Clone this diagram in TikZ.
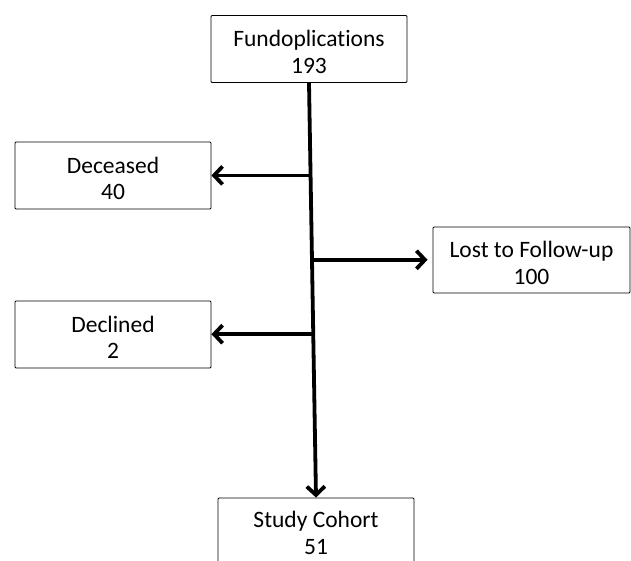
\documentclass[tikz,border=0pt]{standalone}
\usepackage{fontspec}
\setmainfont{Carlito}[Ligatures={NoCommon}]
\usetikzlibrary{arrows.meta,calc}
\begin{document}
\begin{tikzpicture}[x=1pt,y=-1pt,
  box/.style={draw=black,line width=0.9pt,rounded corners=1pt,fill=white,
    minimum width=196pt,minimum height=67pt,inner sep=0pt},
  txt/.style={align=center,inner sep=0pt,yshift=-3pt,
    font=\fontsize{23.5}{26.5}\selectfont},
  arr/.style={line width=3.8pt,-{Straight Barb[length=8.5pt,width=18pt,line width=3.8pt]}}]
\useasboundingbox (0,0) rectangle (631,560);
\node[box,label={[txt]center:Fundoplications\\193}] (fund) at (309,49) {};
\node[box,label={[txt]center:Deceased\\40}] (dec) at (113,175.5) {};
\node[box,minimum width=197pt,minimum height=66pt,label={[txt]center:Lost to Follow-up\\100}] (lost) at (531.5,260) {};
\node[box,label={[txt]center:Declined\\2}] (decl) at (113,334.5) {};
\node[box,minimum height=68pt,label={[txt,yshift=2pt]center:Study Cohort\\51}] (study) at (316,532) {};
\draw[arr] (fund.south) -- (study.north);
\coordinate (c1) at ($(fund.south)!0.223!(study.north)$);
\coordinate (c2) at ($(fund.south)!0.4265!(study.north)$);
\coordinate (c3) at ($(fund.south)!0.606!(study.north)$);
\draw[arr] (c1) -- (c1 -| dec.east);
\draw[arr,shorten >=5pt] (c2) -- (c2 -| lost.west);
\draw[arr] (c3) -- (c3 -| decl.east);
\end{tikzpicture}
\end{document}
